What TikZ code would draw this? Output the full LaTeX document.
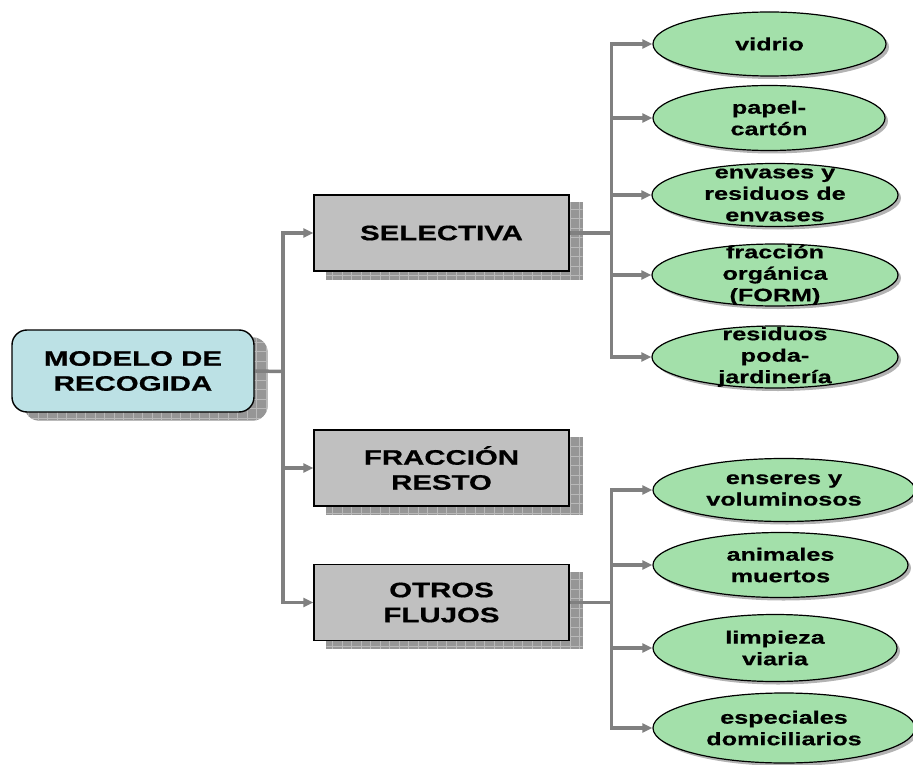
\documentclass[tikz,border=0pt]{standalone}
\usepackage{fontspec}
\newfontfamily\diagfont{Liberation Sans}[FakeStretch=1.4, BoldFeatures={FakeBold=0.6}]
\usetikzlibrary{shapes.geometric,arrows.meta,backgrounds,shadows}
\definecolor{boxblue}{RGB}{188,225,229}
\definecolor{boxgray}{RGB}{192,192,192}
\definecolor{leafgreen}{RGB}{163,224,170}
\definecolor{conngray}{RGB}{128,128,128}
\definecolor{shadowgray}{RGB}{150,150,150}
\definecolor{gridgray}{RGB}{185,185,185}
\newcommand\boxshadow[2][0pt]{%
  \fill[shadowgray, rounded corners=#1] ([shift={(13pt,-8pt)}]#2.south west) rectangle ([shift={(13pt,-8pt)}]#2.north east);
  \begin{scope}
    \clip[rounded corners=#1] ([shift={(13pt,-8pt)}]#2.south west) rectangle ([shift={(13pt,-8pt)}]#2.north east);
    \draw[gridgray, line width=0.8pt, step=9.5pt] ([shift={(13pt,-8pt)}]#2.south west) grid ([shift={(13pt,-8pt)}]#2.north east);
  \end{scope}}
\tikzset{
  mainbox/.style={draw=black, line width=1.4pt, fill=boxgray, minimum width=255pt, minimum height=76pt,
    inner sep=0pt, align=center, font=\diagfont\bfseries\fontsize{21}{25}\selectfont},
  rootbox/.style={mainbox, fill=boxblue, rounded corners=15pt, minimum width=242pt, minimum height=82pt},
  leaf/.style={ellipse, draw=black, line width=1.2pt, fill=leafgreen, inner sep=0pt,
    minimum width=#1, drop shadow={shadow xshift=3pt, shadow yshift=-3pt, fill=gray, opacity=0.6}},
  lbl/.style={align=center, inner sep=0pt, font=\diagfont\bfseries\fontsize{18}{21.5}\selectfont},
  conn/.style={draw=conngray, line width=3.5pt},
  arr/.style={conn, -{Triangle[length=10pt,width=9pt]}},
}
\begin{document}
\begin{tikzpicture}[x=1pt,y=-1pt]
\useasboundingbox (0,0) rectangle (913,765);
% main boxes
\node[rootbox] (modelo) at (133,371) {MODELO DE\\RECOGIDA};
\node[mainbox] (selectiva) at (441.5,233) {SELECTIVA};
\node[mainbox] (fraccion) at (441.5,468) {FRACCIÓN\\RESTO};
\node[mainbox] (otros) at (441.5,602.5) {OTROS\\FLUJOS};
% leaves
\node[leaf=233pt, minimum height=64pt, label={[lbl]center:vidrio}] (vidrio) at (769.5,44) {};
\node[leaf=232pt, minimum height=65pt, label={[lbl]center:papel-\\cartón}] (papel) at (769,118) {};
\node[leaf=246pt, minimum height=63pt, label={[lbl]center:envases y\\residuos de\\envases}] (envases) at (775,195) {};
\node[leaf=246pt, minimum height=62pt, label={[lbl]center:fracción\\orgánica\\(FORM)}] (organica) at (775,275) {};
\node[leaf=246pt, minimum height=62pt, label={[lbl]center:residuos\\poda-\\jardinería}] (poda) at (775,357) {};
\node[leaf=262pt, minimum height=63pt, label={[lbl]center:enseres y\\voluminosos}] (enseres) at (784,490) {};
\node[leaf=255pt, minimum height=65pt, label={[lbl]center:animales\\muertos}] (animales) at (780.5,565) {};
\node[leaf=244pt, minimum height=67pt, label={[lbl]center:limpieza\\viaria}] (limpieza) at (775,648) {};
\node[leaf=262pt, minimum height=70pt, label={[lbl]center:especiales\\domiciliarios}] (especiales) at (784,728) {};
% shadows of boxes
\begin{scope}[on background layer]
  \boxshadow[15pt]{modelo}
  \boxshadow{selectiva}
  \boxshadow{fraccion}
  \boxshadow{otros}
\end{scope}
% connectors
\coordinate (j1) at (283,371.5);
\coordinate (j2) at (611.5,233);
\coordinate (j3) at (611.5,602.5);
\begin{scope}[on background layer]
\draw[conn] (modelo.east) -- (j1);
\draw[arr] (j1) |- (selectiva.west);
\draw[arr] (j1) |- (fraccion.west);
\draw[arr] (j1) |- (otros.west);
\draw[conn] (selectiva.east) -- (j2);
\draw[arr] (j2) |- (vidrio.west);
\draw[arr] (j2) |- (papel.west);
\draw[arr] (j2) |- (envases.west);
\draw[arr] (j2) |- (organica.west);
\draw[arr] (j2) |- (poda.west);
\draw[conn] (otros.east) -- (j3);
\draw[arr] (j3) |- (enseres.west);
\draw[arr] (j3) |- (animales.west);
\draw[arr] (j3) |- (limpieza.west);
\draw[arr] (j3) |- (especiales.west);
\end{scope}
\end{tikzpicture}
\end{document}
